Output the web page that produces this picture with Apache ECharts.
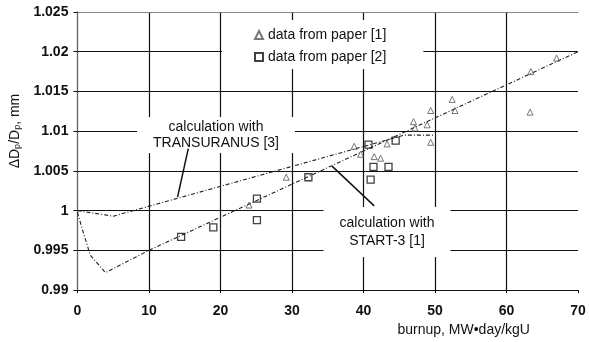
<!DOCTYPE html>
<html>
<head>
<meta charset="utf-8">
<script src="https://cdn.jsdelivr.net/npm/echarts@6/dist/echarts.min.js"></script>
<style>
html,body{margin:0;padding:0;background:#fff;}
#c{width:589px;height:342px;}
</style>
</head>
<body>
<div id="c"></div>
<script>
// ---- data ----
const paper1X = [24.0, 29.2, 38.7, 39.6, 41.5, 42.4, 43.3, 47.0, 47.2, 48.9, 49.4, 49.4, 52.4, 52.8, 63.3, 63.4, 67.0];
const paper1Y = [1.0007, 1.0042, 1.0081, 1.0071, 1.0068, 1.0066, 1.0084, 1.0112, 1.0104, 1.0108, 1.0126, 1.0086, 1.0140, 1.0126, 1.0124, 1.0175, 1.0192];
const paper2X = [14.5, 19.0, 25.1, 25.1, 32.3, 40.7, 41.0, 41.4, 43.5, 44.5];
const paper2Y = [0.9967, 0.9979, 1.0015, 0.9988, 1.0042, 1.0083, 1.0039, 1.0055, 1.0055, 1.0088];
const transX = [0, 5, 45.7, 50];
const transY = [1.0, 0.9993, 1.0095, 1.0095];
const startX = [0, 0.7, 1.8, 3.9, 10, 70];
const startY = [0.9998, 0.9976, 0.9944, 0.9922, 0.995, 1.02];
const xTickLabels = ['0', '10', '20', '30', '40', '50', '60', '70'];
const yTickLabels = ['0.99', '0.995', '1', '1.005', '1.01', '1.015', '1.02', '1.025'];
const seriesNames = ['data from paper [1]', 'data from paper [2]'];
const noteTrans = 'calculation with\nTRANSURANUS [3]';
const noteStart = 'calculation with\nSTART-3 [1]';
const arrowTrans = [[15.5, 1.0078], [14.0, 1.0017]];
const arrowStart = [[41.5, 1.0006], [35.6, 1.0056]];

const zip = (a, b) => a.map((v, i) => [v, b[i]]);
const FONT = "'Liberation Sans', Arial, sans-serif";
const INK = '#111';

const chart = echarts.init(document.getElementById('c'), null, {renderer: 'canvas'});
chart.setOption({
  animation: false,
  backgroundColor: '#fff',
  textStyle: {fontFamily: FONT},
  grid: {left: 72, right: 11, top: 12, bottom: 42, containLabel: false},
  legend: {
    orient: 'vertical', left: 222, top: 20,
    data: seriesNames,
    itemWidth: 8, itemHeight: 8, itemGap: 8,
    backgroundColor: '#fff',
    padding: [8, 37, 5, 32],
    textStyle: {fontSize: 14, color: INK, fontFamily: FONT},
    z: 6
  },
  xAxis: [{
    type: 'value', min: 0, max: 70, interval: 10,
    name: 'burnup, MW•day/kgU', nameLocation: 'middle', nameGap: 26,
    nameTextStyle: {fontSize: 14, color: INK, fontFamily: FONT, padding: [0, 0, 0, 272]},
    axisLine: {show: true, lineStyle: {color: INK, width: 1.2}},
    axisTick: {show: true, length: 3, lineStyle: {color: INK}},
    axisLabel: {fontSize: 14, fontWeight: 'bold', color: INK, margin: 14,
      formatter: (v) => xTickLabels[Math.round(v / 10)]},
    splitLine: {show: true, showMinLine: false, showMaxLine: false, lineStyle: {color: INK, width: 1.2}}
  }, {
    type: 'value', min: 0, max: 70, position: 'top',
    axisLine: {show: true, lineStyle: {color: '#777', type: 'dotted', width: 1}},
    axisTick: {show: false}, axisLabel: {show: false}, splitLine: {show: false}
  }],
  yAxis: [{
    type: 'value', min: 0.99, max: 1.025, interval: 0.005,
    name: 'ΔD{s|p}/D{s|p}, mm', nameLocation: 'middle', nameGap: 50,
    nameTextStyle: {fontSize: 14, color: INK, fontFamily: FONT, padding: [0, 0, 0, 40],
      rich: {s: {fontSize: 9, color: INK, fontFamily: FONT, verticalAlign: 'bottom', padding: [6, 0, 0, 0]}}},
    axisLine: {show: true, lineStyle: {color: INK, width: 1.2}},
    axisTick: {show: true, length: 4, lineStyle: {color: INK}},
    axisLabel: {fontSize: 14, fontWeight: 'bold', color: INK, margin: 9,
      formatter: (v) => yTickLabels[Math.round((v - 0.99) / 0.005)]},
    splitLine: {show: true, showMinLine: false, showMaxLine: false, lineStyle: {color: INK, width: 1.2}}
  }, {
    type: 'value', min: 0.99, max: 1.025, position: 'right',
    axisLine: {show: true, lineStyle: {color: '#777', type: 'dotted', width: 1}},
    axisTick: {show: false}, axisLabel: {show: false}, splitLine: {show: false}
  }],
  series: [{
    name: 'TRANSURANUS [3]', type: 'line', data: zip(transX, transY),
    showSymbol: false, symbol: 'none', z: 3,
    lineStyle: {color: '#222', width: 1.1, type: [4, 2, 1, 2]},
    markLine: {
      silent: true, symbol: ['none', 'arrow'], symbolSize: [0, 7],
      label: {show: false},
      lineStyle: {color: INK, width: 1.5, type: 'solid'},
      data: [[{coord: arrowTrans[0]}, {coord: arrowTrans[1]}]]
    }
  }, {
    name: 'START-3 [1]', type: 'line', data: zip(startX, startY),
    showSymbol: false, symbol: 'none', z: 3,
    lineStyle: {color: '#222', width: 1.1, type: [4, 2, 1, 2]},
    markLine: {
      silent: true, symbol: ['none', 'arrow'], symbolSize: [0, 5],
      label: {show: false},
      lineStyle: {color: INK, width: 1.5, type: 'solid'},
      data: [[{coord: arrowStart[0]}, {coord: arrowStart[1]}]]
    }
  }, {
    name: seriesNames[0], type: 'scatter', data: zip(paper1X, paper1Y),
    symbol: 'triangle', symbolSize: 6, z: 4,
    itemStyle: {color: 'rgba(0,0,0,0)', borderColor: '#555', borderWidth: 1}
  }, {
    name: seriesNames[1], type: 'scatter', data: zip(paper2X, paper2Y),
    symbol: 'rect', symbolSize: 7, z: 4,
    itemStyle: {color: 'rgba(0,0,0,0)', borderColor: '#111', borderWidth: 1.3}
  }],
  graphic: [{
    type: 'text', x: 216, y: 135, z: 5,
    style: {text: noteTrans, font: '14px ' + FONT, fill: INK, align: 'center', verticalAlign: 'middle',
      lineHeight: 16, backgroundColor: '#fff', padding: [2, 16, 2, 16]}
  }, {
    type: 'text', x: 387, y: 232, z: 5,
    style: {text: noteStart, font: '14px ' + FONT, fill: INK, align: 'center', verticalAlign: 'middle',
      lineHeight: 18, backgroundColor: '#fff', padding: [7, 16, 7, 16]}
  }]
});
</script>
</body>
</html>
